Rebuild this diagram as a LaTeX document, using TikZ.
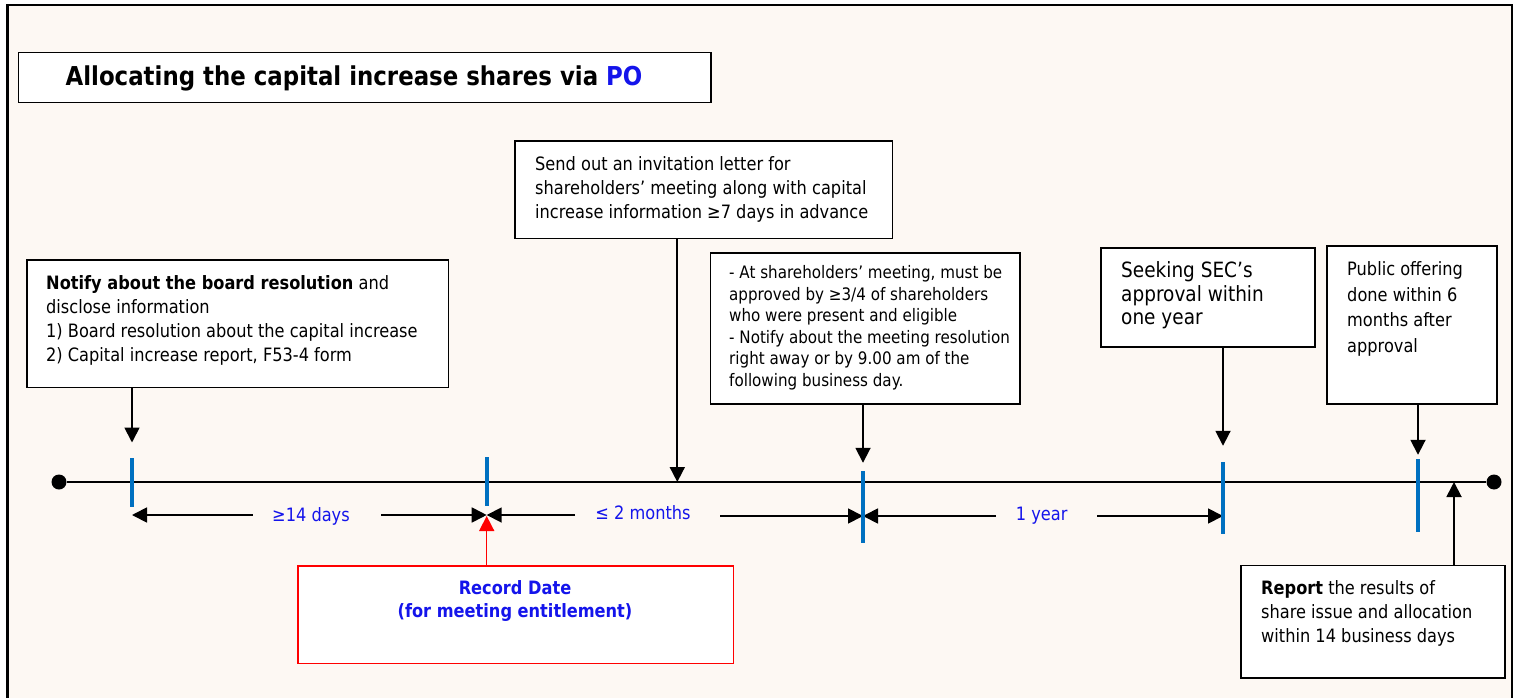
\documentclass[tikz,border=0pt]{standalone}
\usepackage{fontspec}
\setmainfont{DejaVu Sans}[FakeStretch=0.88]
\usetikzlibrary{arrows.meta,calc}

\definecolor{paper}{RGB}{253,248,243}
\definecolor{tickblue}{RGB}{0,112,192}
\definecolor{labelblue}{RGB}{20,20,235}
\definecolor{alertred}{RGB}{255,0,0}

\newcommand\fsz[2]{\fontsize{#1}{#2}\selectfont}

\tikzset{
  panel/.style={draw=black, line width=1.5pt, fill=white, inner sep=0pt,
    anchor=north west, rectangle},
  body/.style={inner sep=0pt, anchor=north west, align=left,
    font=\fsz{18.4}{24}},
  link/.style={line width=1.8pt, -{Triangle[length=15pt,width=15pt]}},
  span/.style={line width=1.8pt, -{Triangle[length=15pt,width=15pt]}},
  tickmark/.style={rectangle, fill=tickblue, draw=none, inner sep=0pt,
    minimum width=3.8pt},
  enddot/.style={circle, fill=black, inner sep=0pt, minimum size=15pt},
  gaplabel/.style={text=labelblue, inner sep=0pt, font=\fsz{18.4}{22}},
}

\begin{document}
\begin{tikzpicture}[x=1pt,y=-1pt]
\useasboundingbox (0,0) rectangle (1517,698);
\fill[white] (0,0) rectangle (1517,698);

% page frame, open at the bottom
\fill[paper] (7.5,5) rectangle (1512,698);
\draw[line width=2.5pt] (7.5,698) -- (7.5,5) -- (1512,5) -- (1512,698);

% title
\node[panel, minimum width=692.5pt, minimum height=50pt] (titlebox) at (17.5,52) {};
\node[inner sep=0pt, anchor=base west, font=\bfseries\fsz{26}{30}] (titletext)
  at (65.4,85.5) {Allocating the capital increase shares via \textcolor{labelblue}{PO}};

% timeline
\node[enddot] (start) at (59,482) {};
\node[enddot] (finish) at (1494,482) {};
\draw[line width=1.8pt] (start) -- (finish);

% milestone ticks
\node[tickmark, minimum height=49pt] (k1) at (132,482.5) {};
\node[tickmark, minimum height=49pt] (k2) at (486.7,481.2) {};
\node[tickmark, minimum height=72pt] (k3) at (863,507) {};
\node[tickmark, minimum height=72pt] (k4) at (1223,498) {};
\node[tickmark, minimum height=73pt] (k5) at (1418,495.5) {};

% event boxes
\node[panel, minimum width=421.7pt, minimum height=127.7pt] (notify) at (26,259) {};
\node[body] (notifytext) at (46,275.4)
  {\textbf{Notify about the board resolution} and\\
   disclose information\\
   1) Board resolution about the capital increase\\
   2) Capital increase report, F53-4 form};

\node[panel, minimum width=377.7pt, minimum height=97.7pt] (invite) at (514,140) {};
\node[body] (invitetext) at (535,156)
  {Send out an invitation letter for\\
   shareholders’ meeting along with capital\\
   increase information ≥7 days in advance};

\node[panel, minimum width=309.4pt, minimum height=151pt] (vote) at (709.6,252) {};
\node[body, font=\fsz{17.2}{21.5}] (votetext) at (729,265.6)
  {- At shareholders’ meeting, must be\\
   approved by ≥3/4 of shareholders\\
   who were present and eligible\\
   - Notify about the meeting resolution\\
   right away or by 9.00 am of the\\
   following business day.};

\node[panel, minimum width=213.7pt, minimum height=99pt] (sec) at (1100.3,247) {};
\node[body, font=\fsz{21}{23.5}] (sectext) at (1121,261.6)
  {Seeking SEC’s\\approval within\\one year};

\node[panel, minimum width=170pt, minimum height=158pt] (offer) at (1326,245) {};
\node[body, font=\fsz{18.4}{25.5}] (offertext) at (1347,261.7)
  {Public offering\\done within 6\\months after\\approval};

\node[panel, minimum width=264pt, minimum height=112.5pt] (report) at (1240,564.5) {};
\node[body] (reporttext) at (1261,580.7)
  {\textbf{Report} the results of\\
   share issue and allocation\\
   within 14 business days};

\node[panel, draw=alertred, minimum width=435.4pt, minimum height=97.4pt] (record) at (297.3,565.3) {};
\node[inner sep=0pt, anchor=north, align=center, text=labelblue,
  font=\bfseries\fsz{18.4}{22.7}] (recordtext) at (515,580.7)
  {Record Date\\(for meeting entitlement)};

% connectors from the boxes to the timeline
\draw[link, shorten >=15.3pt] (notify.south -| k1) -- (k1.north);
\coordinate (call) at (677.3,482);
\draw[link] (invite.south -| call) -- (call);
\draw[link, shorten >=8pt] (vote.south -| k3) -- (k3.north);
\draw[link, shorten >=16pt] (sec.south -| k4) -- (k4.north);
\draw[link, shorten >=4pt] (offer.south -| k5) -- (k5.north);
\coordinate (done) at (1454,482);
\draw[link] (report.north -| done) -- (done);
\coordinate (recordtip) at (486.7,516);
\draw[link, draw=alertred, fill=alertred, line width=1.5pt] (record.north -| recordtip) -- (recordtip);

% interval spans between the milestones
\coordinate (a1) at (252.7,515);  \coordinate (b1) at (381,515);
\coordinate (a2) at (575,515);    \coordinate (b2) at (720,516);
\coordinate (a3) at (996,516);    \coordinate (b3) at (1097,516);
\draw[span] (a1) -- (a1 -| k1);
\draw[span] (b1) -- (b1 -| k2);
\draw[span] (a2) -- (a2 -| k2);
\draw[span] (b2) -- (b2 -| k3);
\draw[span] (a3) -- (a3 -| k3);
\draw[span] (b3) -- (b3 -| k4);
\node[gaplabel] (span1) at (311,516.5) {≥14 days};
\node[gaplabel] (span2) at (643,512.7) {≤ 2 months};
\node[gaplabel] (span3) at (1041.7,516) {1 year};

% ticks drawn again on top of the span arrows
\node[tickmark, minimum height=72pt] at (k3) {};
\node[tickmark, minimum height=72pt] at (k4) {};
\end{tikzpicture}
\end{document}
